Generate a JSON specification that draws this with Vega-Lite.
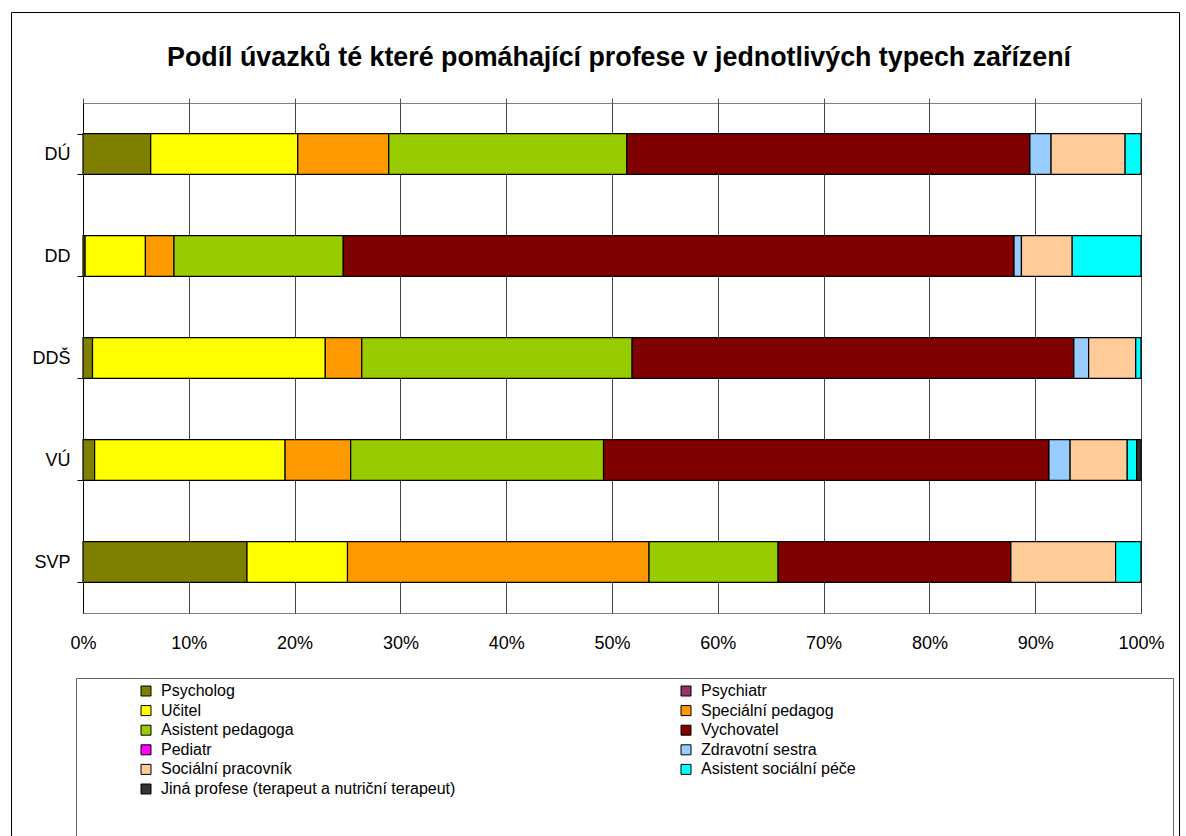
{
  "$schema": "https://vega.github.io/schema/vega-lite/v6.json",
  "autosize": {"type": "none"},
  "width": 1058,
  "height": 510,
  "padding": {"left": 83, "top": 103, "right": 45, "bottom": 223},
  "background": "white",
  "config": {"font": "Liberation Sans", "view": {"stroke": "#808080", "strokeWidth": 1}},
  "title": {"text": "Podíl úvazků té které pomáhající profese v jednotlivých typech zařízení", "fontSize": 26.8, "fontWeight": "bold", "color": "black", "anchor": "middle", "dx": 7, "offset": -60},
  "data": {"values": [
    {"typ": "DÚ", "profese": "Psycholog", "podil": 6.4, "poradi": 1},
    {"typ": "DÚ", "profese": "Učitel", "podil": 13.9, "poradi": 3},
    {"typ": "DÚ", "profese": "Speciální pedagog", "podil": 8.6, "poradi": 4},
    {"typ": "DÚ", "profese": "Asistent pedagoga", "podil": 22.5, "poradi": 5},
    {"typ": "DÚ", "profese": "Vychovatel", "podil": 38.1, "poradi": 6},
    {"typ": "DÚ", "profese": "Zdravotní sestra", "podil": 2.0, "poradi": 8},
    {"typ": "DÚ", "profese": "Sociální pracovník", "podil": 7.0, "poradi": 9},
    {"typ": "DÚ", "profese": "Asistent sociální péče", "podil": 1.5, "poradi": 10},
    {"typ": "DD", "profese": "Psycholog", "podil": 0.2, "poradi": 1},
    {"typ": "DD", "profese": "Učitel", "podil": 5.7, "poradi": 3},
    {"typ": "DD", "profese": "Speciální pedagog", "podil": 2.7, "poradi": 4},
    {"typ": "DD", "profese": "Asistent pedagoga", "podil": 16.0, "poradi": 5},
    {"typ": "DD", "profese": "Vychovatel", "podil": 63.4, "poradi": 6},
    {"typ": "DD", "profese": "Zdravotní sestra", "podil": 0.7, "poradi": 8},
    {"typ": "DD", "profese": "Sociální pracovník", "podil": 4.8, "poradi": 9},
    {"typ": "DD", "profese": "Asistent sociální péče", "podil": 6.5, "poradi": 10},
    {"typ": "DDŠ", "profese": "Psycholog", "podil": 0.9, "poradi": 1},
    {"typ": "DDŠ", "profese": "Učitel", "podil": 22.0, "poradi": 3},
    {"typ": "DDŠ", "profese": "Speciální pedagog", "podil": 3.45, "poradi": 4},
    {"typ": "DDŠ", "profese": "Asistent pedagoga", "podil": 25.55, "poradi": 5},
    {"typ": "DDŠ", "profese": "Vychovatel", "podil": 41.75, "poradi": 6},
    {"typ": "DDŠ", "profese": "Zdravotní sestra", "podil": 1.4, "poradi": 8},
    {"typ": "DDŠ", "profese": "Sociální pracovník", "podil": 4.45, "poradi": 9},
    {"typ": "DDŠ", "profese": "Asistent sociální péče", "podil": 0.5, "poradi": 10},
    {"typ": "VÚ", "profese": "Psycholog", "podil": 1.1, "poradi": 1},
    {"typ": "VÚ", "profese": "Učitel", "podil": 18.0, "poradi": 3},
    {"typ": "VÚ", "profese": "Speciální pedagog", "podil": 6.2, "poradi": 4},
    {"typ": "VÚ", "profese": "Asistent pedagoga", "podil": 23.9, "poradi": 5},
    {"typ": "VÚ", "profese": "Vychovatel", "podil": 42.1, "poradi": 6},
    {"typ": "VÚ", "profese": "Zdravotní sestra", "podil": 2.0, "poradi": 8},
    {"typ": "VÚ", "profese": "Sociální pracovník", "podil": 5.4, "poradi": 9},
    {"typ": "VÚ", "profese": "Asistent sociální péče", "podil": 0.9, "poradi": 10},
    {"typ": "VÚ", "profese": "Jiná profese (terapeut a nutriční terapeut)", "podil": 0.4, "poradi": 11},
    {"typ": "SVP", "profese": "Psycholog", "podil": 15.5, "poradi": 1},
    {"typ": "SVP", "profese": "Učitel", "podil": 9.5, "poradi": 3},
    {"typ": "SVP", "profese": "Speciální pedagog", "podil": 28.5, "poradi": 4},
    {"typ": "SVP", "profese": "Asistent pedagoga", "podil": 12.2, "poradi": 5},
    {"typ": "SVP", "profese": "Vychovatel", "podil": 22.0, "poradi": 6},
    {"typ": "SVP", "profese": "Sociální pracovník", "podil": 9.9, "poradi": 9},
    {"typ": "SVP", "profese": "Asistent sociální péče", "podil": 2.4, "poradi": 10}
  ]},
  "encoding": {
    "y": {
      "field": "typ", "type": "nominal", "title": null,
      "sort": ["DÚ", "DD", "DDŠ", "VÚ", "SVP"],
      "scale": {"paddingInner": 0.6, "paddingOuter": 0.3},
      "axis": {"domainColor": "black", "domainWidth": 1, "tickColor": "black", "tickSize": 6, "tickBand": "extent", "labelFontSize": 18, "labelColor": "black", "labelPadding": 7, "grid": false}
    }
  },
  "layer": [
    {
      "mark": {"type": "bar", "stroke": "black", "strokeWidth": 1.2},
      "encoding": {
        "x": {"field": "podil", "type": "quantitative", "stack": "normalize", "title": null,
          "scale": {"domain": [0, 1], "nice": false},
          "axis": {"orient": "bottom", "values": [0, 0.1, 0.2, 0.3, 0.4, 0.5, 0.6, 0.7, 0.8, 0.9, 1], "format": ".0%", "grid": true, "gridColor": "#444444", "gridWidth": 1, "ticks": false, "domain": false, "labelFlush": false, "labelFontSize": 18, "labelColor": "black", "labelPadding": 21}},
        "color": {
          "field": "profese", "type": "nominal",
          "scale": {
            "domain": ["Psycholog", "Psychiatr", "Učitel", "Speciální pedagog", "Asistent pedagoga", "Vychovatel", "Pediatr", "Zdravotní sestra", "Sociální pracovník", "Asistent sociální péče", "Jiná profese (terapeut a nutriční terapeut)"],
            "range": ["#808000", "#993366", "#FFFF00", "#FF9900", "#99CC00", "#800000", "#FF00FF", "#99CCFF", "#FFCC99", "#00FFFF", "#333333"]
          },
          "legend": {"orient": "none", "legendX": -7, "legendY": 575, "columns": 2, "direction": "horizontal", "strokeColor": "#666666", "padding": 5, "symbolType": "square", "symbolSize": 100, "symbolStrokeColor": "black", "symbolStrokeWidth": 1, "symbolOffset": 57, "labelOffset": 7, "labelFontSize": 16, "labelColor": "black", "labelLimit": 400, "rowPadding": 3.6, "columnPadding": 165,
            "title": ["\u00a0", "\u00a0", "\u00a0", "\u00a0", "\u00a0", "\u00a0", "\u00a0", "\u00a0", "\u00a0", "\u00a0", "\u00a0"], "titleOrient": "right", "titleFontSize": 16, "titleLineHeight": 21, "titlePadding": 312}
        },
        "order": {"field": "poradi", "type": "quantitative"}
      }
    },
    {
      "mark": {"type": "bar", "opacity": 0},
      "encoding": {
        "x": {"field": "podil", "type": "quantitative", "stack": "normalize", "title": null,
          "axis": {"orient": "top", "values": [0, 0.1, 0.2, 0.3, 0.4, 0.5, 0.6, 0.7, 0.8, 0.9, 1], "labels": false, "grid": false, "domain": false, "ticks": true, "tickSize": 5, "tickColor": "#555555"}},
        "strokeDash": {"field": "typ", "type": "nominal",
          "legend": {"orient": "none", "legendX": -72, "legendY": -91, "strokeColor": "black", "padding": 0, "symbolOpacity": 0, "labelOpacity": 0, "labelFontSize": 10,
            "title": ["\u00a0", "\u00a0", "\u00a0", "\u00a0", "\u00a0", "\u00a0", "\u00a0", "\u00a0", "\u00a0", "\u00a0", "\u00a0", "\u00a0", "\u00a0", "\u00a0", "\u00a0", "\u00a0", "\u00a0", "\u00a0", "\u00a0", "\u00a0", "\u00a0", "\u00a0", "\u00a0", "\u00a0", "\u00a0", "\u00a0", "\u00a0", "\u00a0", "\u00a0", "\u00a0", "\u00a0", "\u00a0", "\u00a0", "\u00a0", "\u00a0", "\u00a0", "\u00a0", "\u00a0", "\u00a0", "\u00a0", "\u00a0", "\u00a0", "\u00a0", "\u00a0", "\u00a0", "\u00a0", "\u00a0", "\u00a0", "\u00a0", "\u00a0", "\u00a0", "\u00a0", "\u00a0", "\u00a0", "\u00a0", "\u00a0", "\u00a0", "\u00a0", "\u00a0", "\u00a0", "\u00a0", "\u00a0", "\u00a0", "\u00a0", "\u00a0", "\u00a0", "\u00a0", "\u00a0", "\u00a0", "\u00a0", "\u00a0", "\u00a0", "\u00a0", "\u00a0", "\u00a0", "\u00a0", "\u00a0", "\u00a0", "\u00a0", "\u00a0", "\u00a0", "\u00a0", "\u00a0", "\u00a0"],
            "titleOrient": "right", "titleFontSize": 20, "titleLineHeight": 22, "titlePadding": 1131}}
      }
    }
  ],
  "resolve": {"axis": {"x": "independent"}}
}
